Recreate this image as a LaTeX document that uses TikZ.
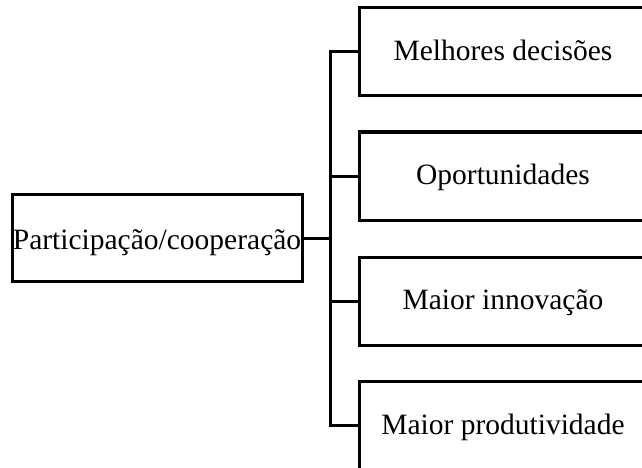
\documentclass[tikz,border=0pt]{standalone}
\usepackage{fontspec}
\setmainfont{Liberation Serif}
\begin{document}
\begin{tikzpicture}[x=1pt,y=-1pt,
  line width=3pt,
  box/.style={draw=black, rectangle, inner sep=0pt, align=center,
    font=\fontsize{29.5}{35}\selectfont, text height=25pt, text depth=7.3pt},
  link/.style={draw=black, line width=3pt}]
\clip (0,0) rectangle (642,468);
\node[box, minimum width=290pt, minimum height=87pt, text height=22pt, text depth=0pt] (src) at (157,238) {Participação/cooperação};
\node[box, minimum width=288pt, minimum height=88pt] (b1) at (503,52) {Melhores decisões};
\node[box, minimum width=288pt, minimum height=88pt] (b2) at (503,176) {Oportunidades};
\node[box, minimum width=288pt, minimum height=88pt] (b3) at (503,301) {Maior innovação};
\node[box, minimum width=288pt, minimum height=88pt] (b4) at (503,425.5) {Maior produtividade};
\coordinate (top) at (330.5,52);
\coordinate (bot) at (330.5,425.5);
\coordinate (mid) at (330.5,238);
\draw[link] (top) -- (bot);
\draw[link] (src.east) -- (mid);
\draw[link, line cap=rect] (top) -- (b1.west);
\draw[link] (top |- b2.west) -- (b2.west);
\draw[link] (top |- b3.west) -- (b3.west);
\draw[link, line cap=rect] (bot) -- (b4.west);
\end{tikzpicture}
\end{document}
